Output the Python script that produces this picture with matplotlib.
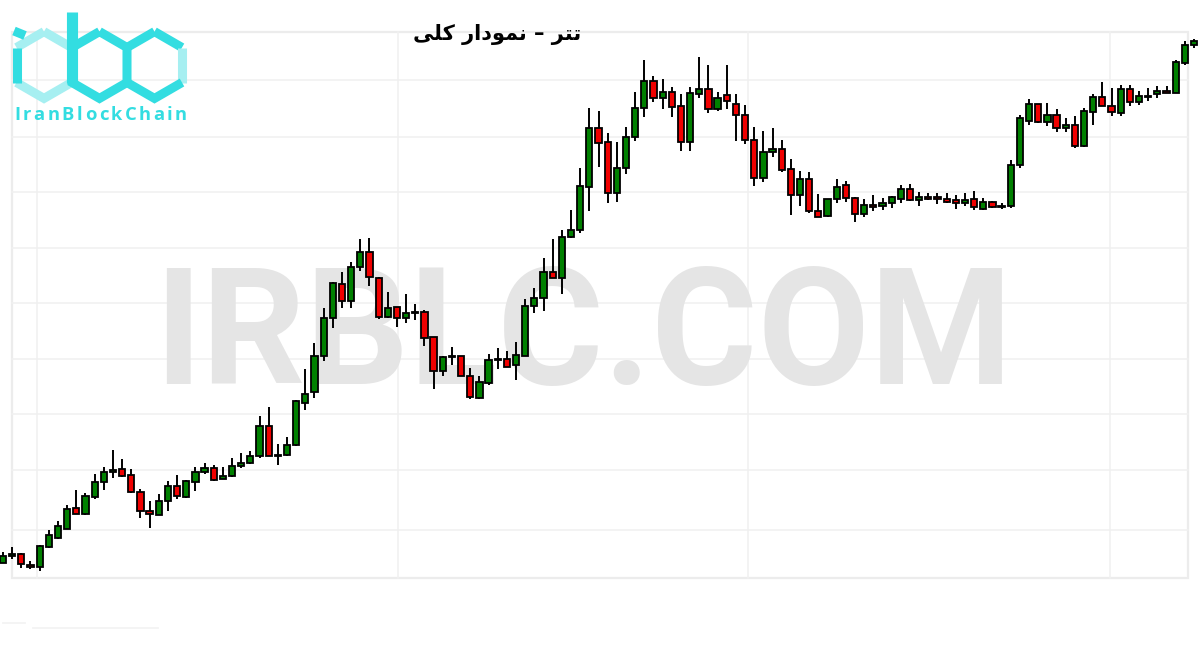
import numpy as np
import matplotlib.pyplot as plt
from matplotlib.patches import Rectangle

# candle values (chart units)
opens = [37, 44, 46, 35, 33, 53, 62, 71, 92, 86, 103, 118, 128, 131, 125, 108, 89, 85, 99, 114,
         103, 118, 128, 132, 121, 124, 134, 137, 144, 174, 144.5, 145, 155, 197, 208, 244, 282, 316, 299, 333,
         348, 322, 283, 293, 282, 287, 288, 263, 229, 243, 244, 224, 202, 217, 240, 241, 235, 244, 294, 302,
         328, 322, 363, 370, 413, 472, 458, 407, 432, 463, 492, 519, 502, 508, 494, 458, 506, 511, 491, 505,
         496, 485, 460, 422, 448, 451, 431, 405, 421, 389, 384, 401, 415, 402, 386, 395, 394, 397, 401, 411,
         400, 403, 403, 401, 400, 397, 401, 391, 398, 393, 394, 435, 479, 496, 478, 485, 472, 475, 454, 488,
         503, 494, 487, 511, 498, 503, 506, 509, 507, 537, 555]
highs = [48, 53, 47, 39, 55, 70, 79, 95, 110, 107, 126, 133, 150, 141, 131, 111, 99, 106, 119, 125,
         120, 133, 137, 135, 133, 142, 147, 149, 184, 193, 156, 163, 200, 231, 257, 292, 318, 328, 338, 361,
         362, 323, 308, 293, 306, 296, 290, 263, 244, 253, 244, 232, 224, 246, 252, 249, 258, 301, 312, 342,
         361, 370, 390, 432, 492, 489, 467, 458, 473, 508, 540, 524, 521, 513, 506, 513, 543, 535, 508, 535,
         506, 495, 473, 469, 472, 460, 441, 429, 428, 406, 401, 421, 419, 403, 401, 405, 402, 404, 415, 416,
         408, 407, 407, 407, 405, 407, 409, 402, 399, 397, 440, 485, 501, 496, 497, 491, 482, 484, 492, 506,
         518, 512, 515, 515, 509, 512, 514, 514, 540, 559, 561]
lows = [37, 41, 32, 31, 29, 52, 61, 71, 86, 85, 101, 110, 122, 123, 107, 82, 72, 85, 89, 101,
        102, 109, 126, 119, 121, 123, 132, 136, 142, 144, 135, 144, 154, 190, 202, 239, 272, 292, 292, 329,
        314, 281, 282, 273, 277, 280, 254, 211, 224, 235, 224, 201, 201, 215, 231, 233, 220, 244, 287, 289,
        322, 306, 362, 367, 389, 433, 397, 398, 426, 459, 483, 498, 491, 483, 449, 449, 502, 487, 489, 491,
        459, 456, 414, 418, 443, 428, 385, 394, 387, 383, 383, 397, 398, 378, 383, 389, 390, 392, 397, 399,
        394, 400, 396, 397, 391, 394, 390, 390, 392, 391, 392, 432, 475, 477, 474, 468, 468, 452, 453, 475,
        494, 484, 484, 494, 495, 499, 502, 507, 507, 535, 552]
closes = [44, 46, 36, 33, 54, 65, 74, 91, 86, 104, 118, 128, 130, 124, 108, 89, 86, 99, 114, 104,
          119, 128, 132, 120, 124, 134, 137, 144, 174, 144, 145.5, 155, 199, 206, 244, 282, 317, 299, 333, 348,
          323, 283, 292, 282, 287, 288, 262, 229, 243, 244, 224, 203, 218, 240, 241, 233, 245, 294, 302, 328,
          322, 363, 370, 414, 472, 457, 407, 432, 463, 492, 519, 502, 508, 493, 458, 507, 511, 491, 502, 499,
          485, 460, 422, 448, 451, 430, 405, 421, 389, 383, 401, 413, 402, 386, 395, 393, 397, 403, 411, 400,
          403, 401, 401, 398, 397, 400, 393, 398, 393, 394, 435, 482, 496, 478, 485, 472, 475, 454, 489, 503,
          494, 488, 511, 498, 504, 504, 509, 507, 538, 555, 559]

# "تتر – نمودار کلی" in Arabic presentation forms, visual order
title_fa = "\uFBFD\uFEE0\uFB90 \uFEAD\uFE8D\uFEA9\uFEEE\uFEE4\uFEE7 \u2013 \uFEAE\uFE98\uFE97"
watermark = "IRBLC.COM"
brand = "IranBlockChain"

green = '#008000'
red = '#f00000'
cyan = '#33dde1'
cyan_light = '#a6eff1'
grid_c = '#f0f0f0'

fig = plt.figure(figsize=(12, 6.5), dpi=100)

# background layer in pixel-like coordinates: frame, grid, logo, watermark
bg = fig.add_axes([0, 0, 1, 1], zorder=0)
bg.set_xlim(0, 1200)
bg.set_ylim(650, 0)
bg.axis('off')

for gy in [80, 137, 192, 248, 303, 359, 414, 470, 530]:
    bg.plot([12, 1188], [gy, gy], color=grid_c, lw=1.1)
for gx in [37, 398, 748, 1110]:
    bg.plot([gx, gx], [32, 578], color=grid_c, lw=1.1)
bg.add_patch(Rectangle((12, 32), 1176, 546, fill=False, ec='#ececec', lw=1.6))
bg.plot([3, 25], [623, 623], color='#f2f2f2', lw=1.2)
bg.plot([33, 158], [628, 628], color='#f2f2f2', lw=1.2)

bg.text(583, 384, watermark, fontsize=117, fontweight='bold', family='Roboto',
        color='#e5e5e5', ha='center', va='baseline', zorder=2)

# logo: three hexagons "i b o"
a, s, p = 27.5, 17.5, 33.4   # half width, half side, peak offset
cy = 65
lw_logo = 6.5


def hexagon(cx):
    return [(cx, cy - p), (cx + a, cy - s), (cx + a, cy + s),
            (cx, cy + p), (cx - a, cy + s), (cx - a, cy - s), (cx, cy - p)]


def edge(pts, i0, i1, col):
    seg = pts[i0:i1 + 1]
    bg.plot([q[0] for q in seg], [q[1] for q in seg], color=col, lw=lw_logo,
            solid_joinstyle='miter', solid_capstyle='butt')


hi = hexagon(44)
edge(hi, 5, 6, cyan_light)
edge(hi, 0, 1, cyan_light)
edge(hi, 2, 4, cyan_light)
edge(hi, 4, 5, cyan)
bg.plot([14, 25], [31, 35.5], color=cyan, lw=lw_logo, solid_capstyle='butt')

hb = hexagon(99.5)
edge(hb, 0, 6, cyan)
bg.plot([hb[5][0], hb[5][0]], [12, hb[4][1]], color=cyan, lw=lw_logo + 1.5,
        solid_capstyle='butt')

ho = hexagon(154.5)
edge(ho, 5, 6, cyan)
edge(ho, 0, 1, cyan)
edge(ho, 1, 2, cyan_light)
edge(ho, 2, 4, cyan)

# brand text with letter spacing
renderer = fig.canvas.get_renderer()
chars = []
for ch in brand:
    t = bg.text(0, 120, ch, fontsize=13.2, fontweight='bold', family='Open Sans',
                color=cyan, ha='left', va='baseline')
    chars.append((t, t.get_window_extent(renderer).width))
total = sum(w for _, w in chars)
gap = (173 - total) / (len(chars) - 1)
xpos = 14
for t, w in chars:
    t.set_x(xpos)
    xpos += w + gap

bg.text(497, 40, title_fa, fontsize=15, fontweight='bold', family=['DejaVu Sans'],
        color='black', ha='center', va='baseline')

# candles
ax = fig.add_axes([0, 0, 1, 1], zorder=1)
ax.patch.set_alpha(0)
n = len(opens)
x = np.arange(n)
step = 1191 / (n - 1)
x_left = -3 / step
ax.set_xlim(x_left, x_left + 1200 / step)
ax.set_ylim(-50, 600)
ax.axis('off')

o = np.array(opens, dtype=float)
c = np.array(closes, dtype=float)
up = c >= o
colors = np.where(up, green, red)

ax.vlines(x, lows, highs, color='black', lw=1.4, zorder=2)
ax.bar(x, c - o, bottom=o, width=0.68, color=colors, edgecolor='black',
       linewidth=1.3, zorder=3)

fig.savefig('out.png', dpi=100)
